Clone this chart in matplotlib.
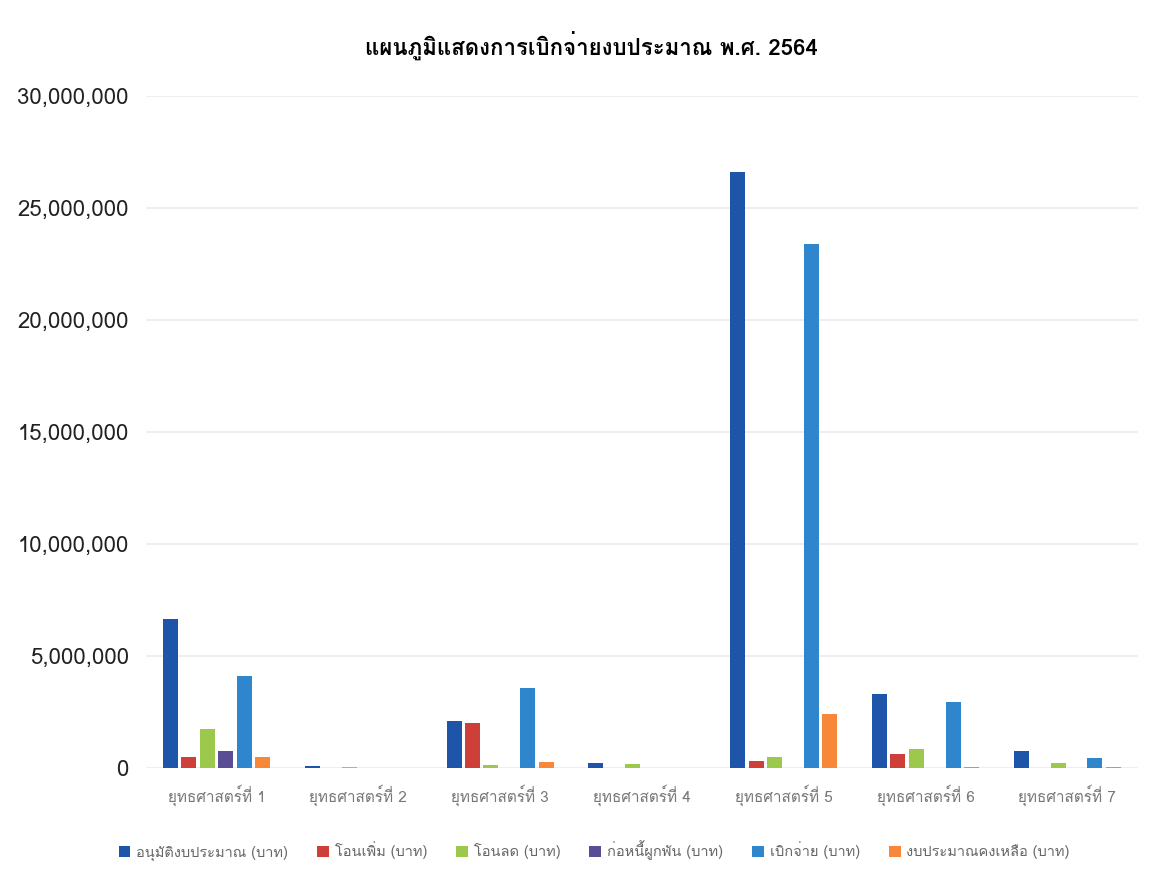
import numpy as np
import matplotlib
matplotlib.use("Agg")
import matplotlib.pyplot as plt
from matplotlib import font_manager
from matplotlib.ft2font import FT2Font
from matplotlib.ticker import FuncFormatter

# find an installed family that has Thai glyphs
thai_fam = None
for f in font_manager.fontManager.ttflist:
    try:
        cmap = FT2Font(f.fname).get_charmap()
    except Exception:
        continue
    if 0x0E01 in cmap and 0x0E32 in cmap:
        thai_fam = f.name
        break
fams = ([thai_fam] if thai_fam else []) + ['DejaVu Sans']
plt.rcParams['font.family'] = fams

title = 'แผนภูมิแสดงการเบิกจ่ายงบประมาณ พ.ศ. 2564'
categories = ['ยุทธศาสตร์ที่ 1', 'ยุทธศาสตร์ที่ 2', 'ยุทธศาสตร์ที่ 3', 'ยุทธศาสตร์ที่ 4',
              'ยุทธศาสตร์ที่ 5', 'ยุทธศาสตร์ที่ 6', 'ยุทธศาสตร์ที่ 7']
series_names = ['อนุมัติงบประมาณ (บาท)', 'โอนเพิ่ม (บาท)', 'โอนลด (บาท)',
                'ก่อหนี้ผูกพัน (บาท)', 'เบิกจ่าย (บาท)', 'งบประมาณคงเหลือ (บาท)']

approved = [6650000, 80000, 2100000, 250000, 26600000, 3300000, 750000]
transfer_in = [490000, 0, 2000000, 0, 330000, 630000, 20000]
transfer_out = [1740000, 50000, 150000, 200000, 500000, 850000, 220000]
committed = [760000, 0, 0, 0, 0, 0, 0]
disbursed = [4100000, 0, 3570000, 0, 23400000, 2950000, 450000]
remaining = [490000, 0, 270000, 0, 2400000, 60000, 30000]

series = [approved, transfer_in, transfer_out, committed, disbursed, remaining]
colors = ['#1f55a8', '#cf3f3a', '#9cc84c', '#5b4d93', '#2f86cc', '#f7883a']

fig = plt.figure(figsize=(11.65, 8.86), dpi=100)
ax = fig.add_axes([0.125, 0.133, 0.852, 0.759])

x = np.arange(len(categories))
w = 0.106
step = 0.13
for i, (vals, c, name) in enumerate(zip(series, colors, series_names)):
    ax.bar(x + (i - 2.5) * step, vals, width=w, color=c, label=name, zorder=3)

ax.set_xlim(-0.5, len(categories) - 0.5)
ax.set_ylim(0, 30000000)
ax.set_yticks(np.arange(0, 30000001, 5000000))
ax.yaxis.set_major_formatter(FuncFormatter(lambda v, p: '{:,.0f}'.format(v)))
ax.set_xticks(x)
ax.set_xticklabels(categories, fontsize=11, color='#777777')
ax.tick_params(axis='y', labelsize=16, colors='#222222', length=0, pad=12)
ax.tick_params(axis='x', length=0, pad=12)
ax.grid(axis='y', color='#ebebeb', linewidth=1.2, zorder=0)
for s in ax.spines.values():
    s.set_visible(False)

fig.suptitle(title, fontsize=16, fontweight='bold', y=0.965, x=0.508)
fig.legend(loc='center', bbox_to_anchor=(0.51, 0.04), ncol=6, frameon=False,
           fontsize=10.5, handlelength=0.8, handleheight=0.8, columnspacing=2.0,
           labelcolor='#666666', handletextpad=0.4)

fig.savefig('out.png', dpi=100)
